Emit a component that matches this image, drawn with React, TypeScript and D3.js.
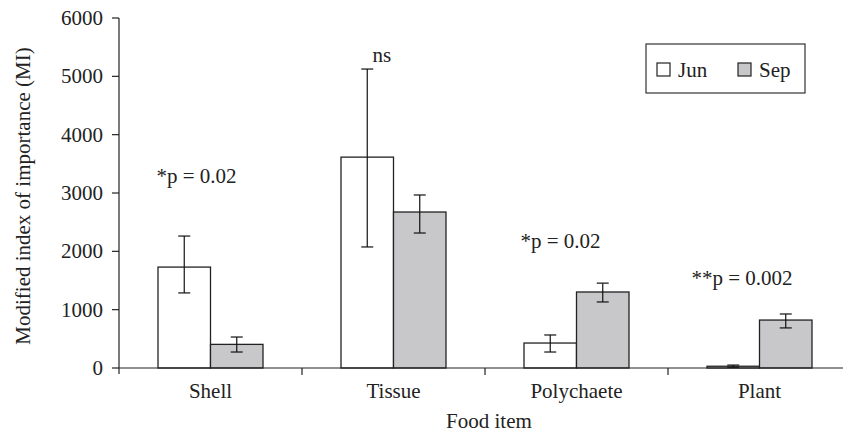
import React from "react";
import * as d3 from "d3";

const categories = ["Shell", "Tissue", "Polychaete", "Plant"];
const series = ["Jun", "Sep"];
const junValues = [1730, 3615, 428, 30];
const junErrHigh = [2262, 5125, 566, 50];
const junErrLow = [1287, 2075, 274, 12];
const sepValues = [405, 2674, 1303, 822];
const sepErrHigh = [531, 2966, 1455, 926];
const sepErrLow = [274, 2314, 1132, 687];
const yTicks = [0, 1000, 2000, 3000, 4000, 5000, 6000];
const annotations = [
  { cat: "Shell", text: "*p = 0.02", value: 3170, dx: -54 },
  { cat: "Tissue", text: "ns", value: 5240, dx: -21 },
  { cat: "Polychaete", text: "*p = 0.02", value: 2060, dx: -56 },
  { cat: "Plant", text: "**p = 0.002", value: 1420, dx: -68 },
];

const W = 843;
const H = 432;
const FONT = "Liberation Serif, Tinos, Times New Roman, serif";

export default function App() {
  const left = 119;
  const bandW = 183;
  const x = d3
    .scaleBand<string>()
    .domain(categories)
    .range([left, left + bandW * categories.length])
    .padding(0);
  const y = d3.scaleLinear().domain([0, 6000]).range([368, 18]);
  const barW = 52.5;
  const fills = ["#ffffff", "#c8c8ca"];
  const data = [
    { v: junValues, hi: junErrHigh, lo: junErrLow },
    { v: sepValues, hi: sepErrHigh, lo: sepErrLow },
  ];
  const fs = 21;
  const ts = { fontFamily: FONT };
  return (
    <svg
      width={W}
      height={H}
      style={{ position: "absolute", left: 0, top: 0, background: "#fff", fontFamily: FONT }}
    >
      {/* bars */}
      {categories.map((c, i) => {
        const cx = (x(c) as number) + x.bandwidth() / 2;
        return data.map((s, k) => {
          const bx = cx - barW + k * barW;
          return (
            <g key={c + k}>
              <rect
                x={bx}
                y={y(s.v[i])}
                width={barW}
                height={y(0) - y(s.v[i])}
                fill={fills[k]}
                stroke="#222"
                strokeWidth={1.3}
              />
              <line
                x1={bx + barW / 2}
                x2={bx + barW / 2}
                y1={y(s.hi[i])}
                y2={y(s.lo[i])}
                stroke="#111"
                strokeWidth={1.2}
              />
              <line
                x1={bx + barW / 2 - 6}
                x2={bx + barW / 2 + 6}
                y1={y(s.hi[i])}
                y2={y(s.hi[i])}
                stroke="#111"
                strokeWidth={1.2}
              />
              <line
                x1={bx + barW / 2 - 6}
                x2={bx + barW / 2 + 6}
                y1={y(s.lo[i])}
                y2={y(s.lo[i])}
                stroke="#111"
                strokeWidth={1.2}
              />
            </g>
          );
        });
      })}
      {/* axes */}
      <line x1={left} x2={left} y1={y(6000)} y2={y(0) + 6} stroke="#222" strokeWidth={1.2} />
      <line x1={left} x2={W} y1={y(0)} y2={y(0)} stroke="#222" strokeWidth={1.2} />
      {yTicks.map((t) => (
        <g key={t}>
          <line x1={left - 7} x2={left} y1={y(t)} y2={y(t)} stroke="#222" strokeWidth={1.2} />
          <text x={left - 16} y={y(t) + 7} textAnchor="end" fontSize={fs} fill="#222" style={ts}>
            {t}
          </text>
        </g>
      ))}
      {categories.map((c, i) => (
        <g key={c}>
          {i > 0 && (
            <line
              x1={x(c) as number}
              x2={x(c) as number}
              y1={y(0)}
              y2={y(0) + 7}
              stroke="#222"
              strokeWidth={1.2}
            />
          )}
          <text
            x={(x(c) as number) + x.bandwidth() / 2}
            y={398}
            textAnchor="middle"
            fontSize={fs}
            fill="#222"
            style={ts}
          >
            {c}
          </text>
        </g>
      ))}
      <text x={(left + W) / 2 + 8} y={428} textAnchor="middle" fontSize={fs} fill="#222" style={ts}>
        Food item
      </text>
      <text
        transform={`translate(30, ${(y(0) + y(6000)) / 2 + 3}) rotate(-90)`}
        textAnchor="middle"
        fontSize={fs}
        fill="#222"
        style={ts}
      >
        Modified index of importance (MI)
      </text>
      {/* annotations */}
      {annotations.map((a) => (
        <text
          key={a.cat}
          x={(x(a.cat) as number) + x.bandwidth() / 2 + a.dx}
          y={y(a.value)}
          fontSize={fs}
          fill="#222"
          style={ts}
        >
          {a.text}
        </text>
      ))}
      {/* legend */}
      <rect x={646} y={44} width={159} height={49} fill="#fff" stroke="#333" strokeWidth={1.2} />
      {series.map((s, k) => (
        <g key={s}>
          <rect
            x={657 + k * 81}
            y={63}
            width={13}
            height={13}
            fill={fills[k]}
            stroke="#222"
            strokeWidth={1.2}
          />
          <text x={678 + k * 81} y={77} fontSize={fs} fill="#222" style={ts}>
            {s}
          </text>
        </g>
      ))}
    </svg>
  );
}
